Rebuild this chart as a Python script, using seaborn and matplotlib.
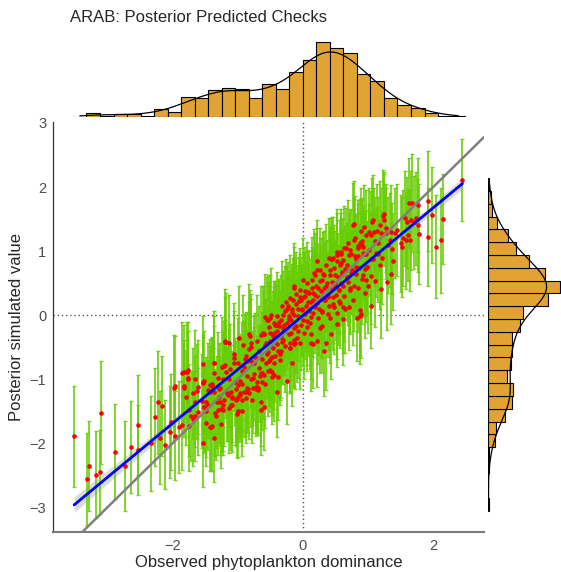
import numpy as np
import matplotlib.pyplot as plt
import seaborn as sns

# observed x, posterior mean and half-width of the interval
x_obs = [
    -3.51, -3.31, -3.28, -3.18, -3.12, -3.10, -2.89, -2.73, -2.64, -2.53,
    -2.53, -2.33, -2.27, -2.23, -2.19, -2.16, -2.11, -2.03, -2.04, -1.97,
    -1.96, -1.90, -1.85, -1.83, -1.80, -1.78, -1.77, -1.74, -1.71, -1.69,
    -1.66, -1.63, -1.66, -1.54, -1.53, -1.51, -1.46, -1.41, -1.39, -1.37,
    -1.36, -1.32, -1.29, -1.24, -1.22, -1.20, -1.15, -1.13, -1.10, -1.06,
    -1.03, -0.98, -0.97, -0.94, -0.92, -0.88, -0.86, -0.83, -0.82, -0.79,
    -0.75, -0.71, -0.69, -0.65, -0.64,
    -0.55, -0.49, -0.45, -0.52, -0.59, -0.50, -0.39, -0.36, -0.38, -0.52,
    -0.50, -0.45, -0.65, -0.70, -0.60, -0.75, -0.79, -0.70, -0.82, -0.87,
    -0.90, -0.80, -0.91, -0.99, -0.94, -1.03, -1.01, -1.08, -1.13, -1.18,
    -1.20, -1.23, -1.28, -1.36, -1.36, -1.43, -1.51, -1.49, -1.52, -1.53,
    -1.61, -1.61, -1.69, -1.66, -1.76, -1.76, -1.82, -1.82, -1.96, -1.86,
    -1.74, -1.55, -1.49, -1.39, -1.26, -1.18, -1.13, -1.06, -1.03, -1.23,
    -1.19, -0.81, -0.60, -0.47, -0.32, -0.19, -0.12, -0.17, -0.35, -0.50,
    -0.48, -0.66, -0.58, -0.72, -0.85, -1.00, -1.06, -1.21, -1.37, -1.53,
    -1.42, -1.27, -1.09, -0.94, -0.78, -0.65, -1.00, -1.30, -1.43, -0.38,
    -0.40, -0.25,
    0.77, 0.87, 0.92, 0.97, 0.99, 0.97, 0.96, 0.87, 0.83, 0.77,
    0.72, 0.68, 0.62, 0.57, 0.59, 0.52, 0.50, 0.47, 0.42, 0.40,
    0.35, 0.32, 0.30, 0.25, 0.22, 0.20, 0.17, 0.15, 0.12, 0.10,
    0.07, 0.05, 0.02, 0.00, -0.03, -0.05, -0.08, -0.10, -0.13, -0.15,
    -0.18, -0.20, -0.23, -0.25, -0.28, -0.31, -0.33, -0.36, -0.41, -0.44,
    -0.46, -0.50, -0.54, -0.58, -0.61, -0.57, -0.20, -0.13, 0.12, 0.35,
    0.30, 0.42, 0.52, 0.57, 0.65, 0.88, 0.82, 0.72, 0.59, 0.47,
    0.22, -0.13, -0.32,
    2.45, 1.92, 1.98, 2.15, 2.12, 2.05, 1.92, 1.77, 1.78, 1.77,
    1.68, 1.63, 1.73, 1.66, 1.60, 1.56, 1.64, 1.62, 1.53, 1.52,
    1.41, 1.35, 1.28, 1.25, 1.25, 1.08, 1.14, 1.20, 1.05, 0.79,
    1.38, 1.35, 1.29, 1.37, 1.22, 1.18, 1.13, 1.05, 0.95, 0.90,
    0.85, 0.82, 0.95, 1.05, 1.10, 0.90, 1.00, 1.20, 0.79, 1.50,
    1.33, 0.94, 1.06, -0.14,
    0.32, 0.16, -0.04, -0.14, -0.35, -0.47, -0.53, -0.63, -0.55, -0.45,
    -0.27, -0.19, 0.43, 0.53, 0.61, 0.89, 1.04, 0.71, 0.27, 0.12,
    0.38, 0.07, 0.22,
    0.28, 0.33, 0.38, 0.45, 0.48, 0.55, 0.60, 0.63, 0.67, 0.70,
    0.74, 0.78, 0.80, 0.18, 0.14, 0.08, 0.04, -0.02, -0.06, -0.10,
    -0.16, -0.22, -0.26, -0.30, -0.40, 0.26, 0.55, 0.62, 0.40, 0.50,
    0.85, 0.92, 0.30, 0.10, -0.08, 0.00, 0.16, 0.24,
    -1.45, -1.40, -1.35, -1.31, -1.27, -1.25, -1.17, -1.12, -1.08, -1.04,
    -0.99, -0.96, -0.93, -0.89, -0.85, -0.84, -0.80, -0.77, -0.74, -0.72,
    -0.68, -0.67, -0.63, -0.62, -0.58, -0.56, -0.53, -0.51, -0.48, -0.46,
    -0.43, -0.42, -0.39, -0.37, -0.34, -0.33, -0.30, -0.29, -0.27, -0.24,
    -0.22, -0.21, -0.18, -0.16, -0.14, -0.11, -0.09, -0.07, -0.05, -0.03,
    -0.01, 0.01, 0.03, 0.04, 0.06, 0.08, 0.09, 0.11, 0.13, 0.14,
    0.16, 0.18, 0.19, 0.21, 0.23, 0.24, 0.26, 0.27, 0.29, 0.31,
    0.32, 0.34, 0.36, 0.37, 0.39, 0.41, 0.43, 0.44, 0.46, 0.48,
    0.49, 0.51, 0.53, 0.54, 0.56, 0.58, 0.60, 0.61, 0.64, 0.66,
    0.69, 0.71, 0.73, 0.76, 0.79, 0.81, 0.84, 0.86, 0.89, 0.93,
    0.98, 1.02, 1.07, 1.11, 1.16, 1.23, 1.31, 1.44, 1.58, 1.70,
    0.45, 0.52, 0.58, 0.63, 0.69, 0.74, 0.80, 0.85, 0.91, 0.97,
    1.02, 1.09, 1.15, 1.19, 1.27,
    -1.48, -1.33, -1.21, -1.11, -0.96, -0.87, -0.77, -0.69, -0.59, -0.44,
]
y_mean = [
    -1.89, -2.56, -2.35, -2.49, -2.45, -1.52, -2.13, -2.35, -2.06, -1.72,
    -2.10, -2.00, -1.59, -1.36, -1.91, -1.42, -2.02, -1.67, -1.82, -1.13,
    -1.88, -1.74, -0.90, -1.14, -1.28, -0.89, -1.00, -1.48, -1.57, -1.62,
    -1.00, -1.19, -1.35, -1.06, -2.00, -1.43, -1.17, -1.74, -1.10, -1.91,
    -0.74, -1.35, -1.27, -0.81, -1.48, -0.41, -1.24, -1.45, -1.20, -0.60,
    -1.33, -0.35, -1.03, -0.87, -0.46, -1.30, -0.71, -0.30, -1.22, -0.50,
    -0.92, -1.05, -1.13, -0.31, -1.35,
    -0.08, 0.01, -0.13, -0.18, -0.29, -0.40, -0.24, -0.32, -0.56, -0.72,
    -0.85, -0.93, -0.91, -1.12, -1.43, -0.74, -0.43, -0.40, -0.53, -0.64,
    -0.81, -0.99, -1.20, -1.28, -1.49, -1.15, -1.54, -1.41, -0.99, -0.88,
    -0.78, -0.99, -1.15, -0.91, -1.20, -1.09, -1.02, -1.36, -1.44, -0.77,
    -1.12, -1.51, -1.22, -1.57, -0.86, -0.98, -0.88, -1.11, -1.11, -1.72,
    -1.73, -1.34, -1.68, -1.73, -1.47, -0.42, -0.44, -0.67, -1.31, -1.41,
    -0.42, -0.33, -0.30, -0.49, -0.42, -0.52, -0.44, -0.75, -0.70, -0.68,
    -0.88, -0.95, -1.07, -1.16, -1.14, -1.09, -0.75, -0.80, -0.75, -1.04,
    -1.20, -1.35, -1.27, -1.32, -1.32, -1.48, -1.50, -1.48, -1.74, -0.97,
    -1.20, -1.02,
    1.40, 1.12, 1.07, 0.96, 0.75, 0.55, 0.34, 0.08, -0.05, 0.24,
    0.40, 0.60, 0.86, 0.79, 0.50, 0.94, 0.63, 0.29, 0.71, 0.89,
    0.45, 0.24, 0.55, 0.09, 0.84, 0.45, 0.66, 0.24, -0.03, 0.34,
    0.50, 0.14, 0.29, -0.08, 0.24, 0.40, 0.09, -0.17, 0.01, 0.24,
    -0.08, 0.27, 0.14, -0.12, 0.06, 0.01, -0.08, -0.17, -0.15, -0.28,
    -0.33, -0.05, -0.08, -0.03, -0.28, -0.44, -0.44, -0.38, -0.44, -0.44,
    -0.17, -0.05, 0.03, 0.19, 0.09, -0.02, 0.75, 1.01, 0.99, 0.89,
    0.70, 0.45, 0.15,
    2.11, 1.78, 1.56, 1.50, 1.17, 1.07, 1.22, 1.40, 1.27, 1.72,
    1.75, 1.75, 1.51, 1.48, 1.45, 1.51, 1.17, 1.25, 1.21, 1.06,
    1.28, 1.30, 1.36, 1.49, 1.58, 1.49, 1.31, 1.28, 1.25, 1.43,
    0.84, 0.65, 0.51, 1.04, 0.90, 0.79, 0.97, 0.87, 0.95, 1.10,
    1.05, 0.87, 0.72, 0.61, 0.54, 0.56, 0.46, 0.41, 0.66, 1.12,
    1.17, 1.37, 1.46, 0.42,
    -0.56, -0.45, -0.43, -0.45, -0.61, -0.97, -0.87, -1.05, -0.61, -0.30,
    -0.25, -0.51, -0.30, -0.14, -0.06, 0.02, 0.14, 0.13, -0.20, -0.30,
    0.02, -0.09, -0.40,
    0.38, 0.62, 0.30, 0.52, 0.12, 0.40, 0.68, 0.30, 0.78, 0.52,
    0.66, 0.45, 0.92, 0.12, 0.55, 0.20, 0.38, 0.08, 0.22, 0.33,
    0.10, -0.02, 0.20, -0.20, -0.02, 0.70, 0.22, 0.12, 0.15, 0.45,
    0.42, 0.62, 0.05, 0.10, -0.25, 0.55, 0.35, 0.28,
    -1.40, -1.08, -1.52, -0.98, -1.14, -1.70, -1.22, -0.84, -1.30, -1.04,
    -0.75, -1.22, -1.08, -0.68, -0.95, -1.15, -0.72, -0.98, -0.65, -1.12,
    -0.56, -0.83, -0.68, -0.90, -0.46, -0.74, -0.58, -0.28, -0.66, -0.51,
    -0.15, -0.63, -0.45, -0.10, -0.34, -0.56, -0.38, -0.15, -0.48, 0.09,
    -0.30, -0.06, -0.28, 0.05, -0.20, 0.18, -0.35, -0.02, 0.28, -0.15,
    0.10, -0.28, 0.30, 0.02, -0.18, 0.36, 0.06, -0.12, 0.20, 0.42,
    0.04, 0.32, 0.62, 0.19, 0.42, -0.04, 0.54, 0.26, 0.06, 0.64,
    0.43, 0.23, 0.78, 0.50, 0.28, 0.63, 0.88, 0.41, 0.18, 0.74,
    0.50, 0.32, 0.84, 0.60, 0.40, 0.95, 0.65, 0.46, 0.72, 1.05,
    0.60, 0.94, 0.42, 0.70, 1.17, 0.64, 0.92, 0.74, 1.32, 0.97,
    0.75, 1.30, 0.87, 1.15, 0.95, 1.55, 1.10, 1.33, 1.17, 1.45,
    0.88, 0.98, 0.82, 1.05, 1.12, 0.95, 1.20, 1.08, 1.15, 1.25,
    1.02, 1.30, 1.12, 1.40, 1.28,
    -1.50, -1.57, -1.33, -1.40, -1.25, -1.20, -1.13, -1.17, -0.93, -0.75,
]
y_err = [
    0.79, 0.72, 0.70, 0.68, 0.66, 0.80, 0.74, 0.70, 0.72, 0.78,
    0.70, 0.74, 0.76, 0.80, 0.72, 0.78, 0.70, 0.75, 0.72, 0.82,
    0.70, 0.72, 0.80, 0.76, 0.74, 0.78, 0.75, 0.72, 0.70, 0.73,
    0.77, 0.74, 0.71, 0.75, 0.68, 0.72, 0.74, 0.70, 0.76, 0.69,
    0.80, 0.72, 0.73, 0.78, 0.71, 0.82, 0.72, 0.70, 0.73, 0.79,
    0.71, 0.80, 0.74, 0.76, 0.78, 0.70, 0.75, 0.79, 0.71, 0.76,
    0.73, 0.72, 0.71, 0.77, 0.69,
    0.68, 0.72, 0.66, 0.70, 0.74, 0.69, 0.71, 0.67, 0.73, 0.70,
    0.66, 0.72, 0.75, 0.70, 0.68, 0.73, 0.76, 0.71, 0.74, 0.69,
    0.72, 0.75, 0.70, 0.68, 0.71, 0.74, 0.69, 0.72, 0.76, 0.73,
    0.70, 0.75, 0.71, 0.74, 0.68, 0.72, 0.77, 0.70, 0.69, 0.75,
    0.73, 0.68, 0.71, 0.70, 0.76, 0.74, 0.72, 0.73, 0.78, 0.69,
    0.70, 0.73, 0.68, 0.71, 0.72, 0.77, 0.75, 0.73, 0.70, 0.71,
    0.70, 0.73, 0.68, 0.71, 0.66, 0.69, 0.72, 0.67, 0.70, 0.74,
    0.68, 0.71, 0.69, 0.73, 0.70, 0.72, 0.75, 0.71, 0.74, 0.70,
    0.72, 0.69, 0.71, 0.73, 0.68, 0.70, 0.72, 0.71, 0.69, 0.67,
    0.70, 0.68,
    0.66, 0.70, 0.64, 0.68, 0.72, 0.65, 0.69, 0.71, 0.67, 0.70,
    0.66, 0.68, 0.64, 0.70, 0.67, 0.65, 0.69, 0.72, 0.66, 0.63,
    0.70, 0.68, 0.65, 0.71, 0.64, 0.67, 0.69, 0.70, 0.72, 0.66,
    0.64, 0.70, 0.68, 0.71, 0.67, 0.65, 0.69, 0.72, 0.70, 0.66,
    0.71, 0.67, 0.69, 0.72, 0.70, 0.68, 0.71, 0.73, 0.69, 0.72,
    0.70, 0.68, 0.71, 0.67, 0.73, 0.70, 0.74, 0.72, 0.75, 0.73,
    0.71, 0.69, 0.72, 0.70, 0.68, 0.74, 0.66, 0.65, 0.67, 0.64,
    0.66, 0.68, 0.69,
    0.64, 0.78, 0.75, 0.70, 0.82, 0.80, 0.76, 0.72, 0.78, 0.74,
    0.76, 0.70, 0.73, 0.77, 0.71, 0.74, 0.79, 0.72, 0.75, 0.78,
    0.70, 0.73, 0.68, 0.72, 0.66, 0.70, 0.74, 0.71, 0.69, 0.66,
    0.76, 0.79, 0.74, 0.71, 0.73, 0.70, 0.68, 0.72, 0.67, 0.70,
    0.69, 0.71, 0.73, 0.75, 0.72, 0.70, 0.74, 0.77, 0.68, 0.76,
    0.73, 0.66, 0.68, 0.65,
    0.70, 0.68, 0.72, 0.69, 0.71, 0.73, 0.70, 0.74, 0.68, 0.66,
    0.69, 0.71, 0.70, 0.67, 0.72, 0.69, 0.66, 0.68, 0.71, 0.70,
    0.67, 0.69, 0.72,
    0.68, 0.70, 0.66, 0.69, 0.72, 0.67, 0.65, 0.70, 0.66, 0.68,
    0.64, 0.69, 0.63, 0.71, 0.67, 0.70, 0.68, 0.72, 0.69, 0.66,
    0.70, 0.71, 0.68, 0.73, 0.70, 0.66, 0.69, 0.71, 0.70, 0.67,
    0.68, 0.65, 0.72, 0.70, 0.73, 0.66, 0.69, 0.68,
    0.70, 0.73, 0.68, 0.72, 0.71, 0.69, 0.74, 0.70, 0.72, 0.68,
    0.71, 0.69, 0.73, 0.70, 0.72, 0.68, 0.71, 0.74, 0.69, 0.72,
    0.70, 0.68, 0.73, 0.71, 0.69, 0.72, 0.70, 0.74, 0.68, 0.71,
    0.69, 0.72, 0.70, 0.67, 0.71, 0.73, 0.69, 0.70, 0.72, 0.68,
    0.71, 0.69, 0.73, 0.70, 0.68, 0.72, 0.70, 0.69, 0.67, 0.71,
    0.70, 0.72, 0.68, 0.71, 0.69, 0.66, 0.70, 0.72, 0.68, 0.65,
    0.70, 0.68, 0.66, 0.71, 0.69, 0.72, 0.67, 0.70, 0.71, 0.66,
    0.69, 0.71, 0.65, 0.68, 0.70, 0.67, 0.64, 0.69, 0.72, 0.66,
    0.68, 0.71, 0.65, 0.69, 0.70, 0.64, 0.68, 0.70, 0.67, 0.63,
    0.69, 0.66, 0.71, 0.68, 0.64, 0.70, 0.67, 0.69, 0.66, 0.70,
    0.72, 0.68, 0.73, 0.70, 0.74, 0.71, 0.75, 0.72, 0.76, 0.73,
    0.66, 0.68, 0.70, 0.65, 0.67, 0.69, 0.66, 0.71, 0.68, 0.70,
    0.72, 0.69, 0.73, 0.70, 0.71,
    0.71, 0.69, 0.72, 0.70, 0.73, 0.68, 0.71, 0.70, 0.69, 0.72,
]
assert len(x_obs) == len(y_mean) == len(y_err)

# marginal histogram counts
top_counts = [0, 3, 1, 2, 2, 1, 6, 4, 15, 14, 20, 22, 21, 14, 25,
              21, 34, 43, 56, 52, 48, 32, 27, 14, 9, 7, 3, 1, 1]
top_start, top_width = -3.528, 0.2075
right_counts = [1, 0, 0, 1, 1, 5, 6, 13, 18, 19, 14, 17, 18,
                18, 24, 26, 45, 54, 43, 31, 21, 15, 7, 3, 2, 1]
right_start, right_width = -3.06, 0.2

gold = '#E2A335'

sns.set_style('white')
plt.rcParams['font.family'] = ['Liberation Sans', 'DejaVu Sans']

W, H = 561, 572
fig = plt.figure(figsize=(W / 100, H / 100), dpi=100)
left, right, top, bottom = 53.3, 484, 121.7, 531.7
ax = fig.add_axes([left / W, 1 - bottom / H, (right - left) / W, (bottom - top) / H])
ax_top = fig.add_axes([left / W, 1 - 117 / H, (right - left) / W, 77 / H])
ax_right = fig.add_axes([488 / W, 1 - bottom / H, 73 / W, (bottom - top) / H])

# main panel
ax.axhline(0, color='#555555', lw=1, ls=(0, (1, 2)), zorder=1)
ax.axvline(0, color='#555555', lw=1, ls=(0, (1, 2)), zorder=1)
ax.errorbar(x_obs, y_mean, yerr=y_err, fmt='none', ecolor='#66CD00',
            elinewidth=1.35, capsize=1.5, capthick=1, alpha=0.85, zorder=2)
ax.scatter(x_obs, y_mean, s=11, color='red', linewidths=0, zorder=3)
ax.axline((0, 0), slope=1, color='#808080', lw=1.8, zorder=4)
sns.regplot(x=np.array(x_obs), y=np.array(y_mean), scatter=False, ax=ax,
            color='blue', line_kws=dict(lw=2, zorder=5))
band = ax.collections[-1]
band.set_facecolor('#999999')
band.set_alpha(0.35)

ax.set_xlim(-3.83, 2.78)
ax.set_ylim(-3.38, 3.02)
ax.set_xticks([-2, 0, 2])
ax.set_yticks([-3, -2, -1, 0, 1, 2, 3])
ax.tick_params(length=3, width=0.8, color='#333333', labelcolor='#4D4D4D',
               labelsize=10.5, pad=2)
for s in ['top', 'right']:
    ax.spines[s].set_visible(False)
ax.spines['left'].set_color('#333333')
ax.spines['left'].set_linewidth(0.9)
ax.spines['bottom'].set_color('#7a7a7a')
ax.spines['bottom'].set_linewidth(1.5)
ax.set_xlabel('Observed phytoplankton dominance', fontsize=12, labelpad=2)
ax.set_ylabel('Posterior simulated value', fontsize=12, labelpad=4)

# top marginal
top_lo = top_start
top_hi = top_start + top_width * len(top_counts)
top_centers = top_lo + top_width * (np.arange(len(top_counts)) + 0.5)
sns.histplot(x=top_centers, weights=np.array(top_counts, dtype=float),
             binwidth=top_width, binrange=(top_lo, top_hi), stat='density',
             kde=True, kde_kws=dict(bw_adjust=0.45, clip=(top_lo, top_hi)),
             color=gold, alpha=1, edgecolor='black', linewidth=0.8,
             line_kws=dict(linewidth=0.9), ax=ax_top)
ax_top.lines[-1].set_color('black')
ax_top.set_xlim(ax.get_xlim())
peak = max(top_counts) / (sum(top_counts) * top_width)
ax_top.set_ylim(0, peak * 77 / 74.7)
ax_top.axis('off')

# right marginal
right_lo = right_start
right_hi = right_start + right_width * len(right_counts)
right_centers = right_lo + right_width * (np.arange(len(right_counts)) + 0.5)
sns.histplot(y=right_centers, weights=np.array(right_counts, dtype=float),
             binwidth=right_width, binrange=(right_lo, right_hi), stat='density',
             kde=True, kde_kws=dict(bw_adjust=0.45, clip=(right_lo, right_hi)),
             color=gold, alpha=1, edgecolor='black', linewidth=0.8,
             line_kws=dict(linewidth=0.9), ax=ax_right)
ax_right.lines[-1].set_color('black')
ax_right.set_ylim(ax.get_ylim())
peak = max(right_counts) / (sum(right_counts) * right_width)
ax_right.set_xlim(0, peak * 73 / 72)
ax_right.axis('off')

fig.text(70 / W, 1 - 18 / H, 'ARAB: Posterior Predicted Checks', fontsize=12,
         ha='left', va='center')

plt.savefig('out.png', dpi=100)
